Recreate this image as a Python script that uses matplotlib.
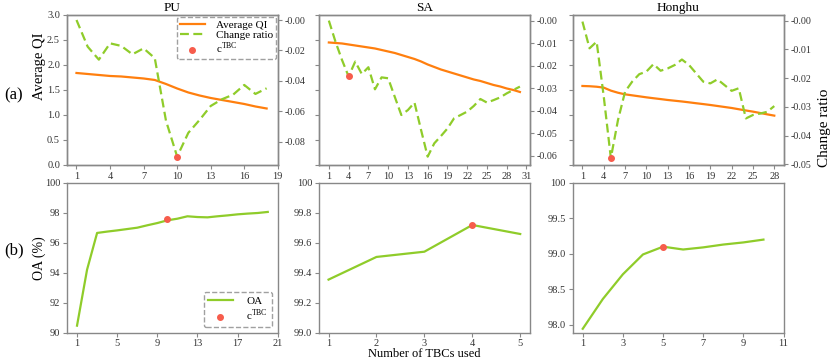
import numpy as np
import matplotlib.pyplot as plt

plt.rcParams['font.family'] = ['Liberation Serif', 'DejaVu Serif']
plt.rcParams['mathtext.fontset'] = 'custom'
plt.rcParams['mathtext.rm'] = 'Liberation Serif'

# ---- data: (a) average QI / change ratio ----
pu_n = np.arange(1, 19)
pu_qi = [1.84, 1.82, 1.80, 1.78, 1.77, 1.75, 1.73, 1.70, 1.62, 1.53,
         1.45, 1.39, 1.34, 1.30, 1.26, 1.22, 1.17, 1.13]
pu_ratio = [0.000, -0.0175, -0.026, -0.0153, -0.017, -0.0225, -0.0186, -0.025, -0.066, -0.0896,
            -0.074, -0.0656, -0.0564, -0.052, -0.049, -0.0426, -0.0485, -0.0448]

sa_n = np.arange(1, 31)
sa_qi = [2.45, 2.44, 2.43, 2.41, 2.39, 2.37, 2.35, 2.33, 2.30, 2.27,
         2.24, 2.20, 2.16, 2.12, 2.07, 2.01, 1.96, 1.91, 1.87, 1.83,
         1.79, 1.75, 1.71, 1.68, 1.64, 1.60, 1.57, 1.53, 1.50, 1.46]
sa_ratio = [0.000, -0.0093, -0.0175, -0.0248, -0.0182, -0.0237, -0.0207, -0.0305, -0.0252, -0.0256,
            -0.0338, -0.0419, -0.0397, -0.0364, -0.0486, -0.0604, -0.0545, -0.0513, -0.0479, -0.0434,
            -0.0419, -0.0404, -0.0379, -0.0348, -0.0364, -0.0353, -0.0341, -0.0323, -0.0308, -0.0293]

hh_n = np.arange(1, 29)
hh_qi = [1.58, 1.575, 1.565, 1.547, 1.487, 1.445, 1.413, 1.393, 1.373, 1.353,
         1.335, 1.318, 1.300, 1.285, 1.270, 1.253, 1.235, 1.218, 1.200, 1.180,
         1.160, 1.140, 1.115, 1.090, 1.067, 1.040, 1.013, 0.987]
hh_ratio = [-0.0003, -0.0096, -0.0073, -0.0264, -0.0478, -0.0346, -0.0247, -0.0212, -0.0186, -0.0177,
            -0.0151, -0.0174, -0.0166, -0.0154, -0.0135, -0.0154, -0.0183, -0.0212, -0.0218, -0.0204,
            -0.0224, -0.0244, -0.0235, -0.0340, -0.0328, -0.0323, -0.0317, -0.0297]

best_tbc = [10, 4, 5]

# ---- data: (b) OA ----
pu_oa_n = np.arange(1, 21)
pu_oa = [90.49, 94.22, 96.67, 96.76, 96.84, 96.93, 97.02, 97.18, 97.33, 97.51,
         97.62, 97.78, 97.73, 97.71, 97.78, 97.84, 97.91, 97.96, 98.00, 98.07]
sa_oa_n = np.arange(1, 6)
sa_oa = [99.356, 99.507, 99.542, 99.72, 99.66]
hh_oa_n = np.arange(1, 11)
hh_oa = [97.94, 98.36, 98.71, 98.99, 99.10, 99.06, 99.09, 99.13, 99.16, 99.20]
best_oa = [97.58, 99.72, 99.10]

titles = ['PU', 'SA', 'Honghu']

c_orange = '#ff7f0e'
c_green = '#8fcc2a'
c_red = '#f75c4c'
c_grey = '#888888'

fig = plt.figure(figsize=(8.3, 3.6), dpi=100)
lefts = [0.0807, 0.3843, 0.690]
width = 0.254


def style(ax):
    for s in ax.spines.values():
        s.set_color(c_grey)
        s.set_linewidth(1.0)
    ax.tick_params(colors='#333333', labelsize=7.5, length=3, width=0.8, pad=2)
    ax.tick_params(color=c_grey)


top_sets = [(pu_n, pu_qi, pu_ratio), (sa_n, sa_qi, sa_ratio), (hh_n, hh_qi, hh_ratio)]
xlims_top = [(0.15, 19.0), (-0.5, 31.5), (-0.37, 29.3)]
xticks_top = [range(1, 20, 3), range(1, 32, 3), range(1, 29, 3)]
rlims = [(-0.0951, 0.0033), (-0.0641, 0.0025), (-0.0502, 0.002)]
rticks = [np.arange(0, -0.081, -0.02), np.arange(0, -0.061, -0.01), np.arange(0, -0.051, -0.01)]

for i, (n, qi, ratio) in enumerate(top_sets):
    ax = fig.add_axes([lefts[i], 0.5417, width, 0.4167])
    ax2 = ax.twinx()
    l1, = ax.plot(n, qi, color=c_orange, lw=1.6, label='Average QI')
    l2, = ax2.plot(n, ratio, color=c_green, lw=1.6, ls='--', dashes=(4, 2), label='Change ratio')
    k = best_tbc[i] - 1
    p = ax2.scatter(n[k], ratio[k], s=16, color=c_red, zorder=5, label=r'c$^{\rm TBC}$')
    ax.set_ylim(0, 3)
    ax.set_yticks(np.arange(0, 3.01, 0.5))
    ax.set_xlim(*xlims_top[i])
    ax.set_xticks(list(xticks_top[i]))
    ax2.set_ylim(*rlims[i])
    ax2.set_yticks(rticks[i])
    ax2.set_yticklabels(['-%.2f' % abs(v) for v in rticks[i]])
    style(ax)
    style(ax2)
    ax2.tick_params(labelsize=7.2)
    if i == 0:
        ax.set_ylabel('Average QI', fontsize=10.5)
        ax.yaxis.set_label_coords(-0.1, 0.66)
        leg = ax.legend(handles=[l1, l2, p], loc='upper right', fontsize=8,
                        frameon=True, fancybox=True, borderpad=0.3, labelspacing=0.05,
                        handlelength=2.2, handletextpad=1.0, borderaxespad=0.15)
        leg.get_frame().set_linestyle('--')
        leg.get_frame().set_edgecolor(c_grey)
        leg.get_frame().set_linewidth(1.0)
    else:
        ax.set_yticklabels([])
    if i == 2:
        ax2.set_ylabel('Change ratio', fontsize=11)
        ax2.yaxis.set_label_coords(1.165, 0.25)
    ax.set_title(titles[i], fontsize=9.5, pad=3)

bot_sets = [(pu_oa_n, pu_oa), (sa_oa_n, sa_oa), (hh_oa_n, hh_oa)]
ylims_bot = [(90, 100), (99.0, 100), (97.88, 100)]
yticks_bot = [np.arange(90, 100.1, 2), np.arange(99.0, 100.01, 0.2), np.arange(98.0, 100.01, 0.5)]
ylabels_bot = [['90', '92', '94', '96', '98', '100'],
               ['99.0', '99.2', '99.4', '99.6', '99.8', '100'],
               ['98.0', '98.5', '99.0', '99.5', '100']]
xlims_bot = [(0, 21), (0.8, 5.2), (0.5, 11)]
xticks_bot = [range(1, 22, 4), range(1, 6), range(1, 12, 2)]
best_idx = [9, 3, 4]

for i, (n, oa) in enumerate(bot_sets):
    ax = fig.add_axes([lefts[i], 0.075, width, 0.4167])
    l1, = ax.plot(n, oa, color=c_green, lw=1.6, label='OA')
    p = ax.scatter(n[best_idx[i]], best_oa[i], s=16, color=c_red, zorder=5, label=r'c$^{\rm TBC}$')
    ax.set_ylim(*ylims_bot[i])
    ax.set_yticks(yticks_bot[i])
    ax.set_yticklabels(ylabels_bot[i])
    ax.set_xlim(*xlims_bot[i])
    ax.set_xticks(list(xticks_bot[i]))
    style(ax)
    ax.tick_params(axis='x', pad=1.5)
    if i == 0:
        ax.set_ylabel('OA (%)', fontsize=10)
        ax.yaxis.set_label_coords(-0.1, 0.5)
        leg = ax.legend(handles=[l1, p], loc='lower right', fontsize=8,
                        frameon=True, fancybox=True, borderpad=0.4, labelspacing=0.15,
                        handlelength=2.2, handletextpad=1.2, borderaxespad=0.5)
        leg.get_frame().set_linestyle('--')
        leg.get_frame().set_edgecolor(c_grey)
        leg.get_frame().set_linewidth(1.0)
    if i == 1:
        ax.set_xlabel('Number of TBCs used', fontsize=9, va='top')
        ax.xaxis.set_label_coords(0.5, -0.1)

fig.text(0.005, 0.735, '(a)', fontsize=12, va='center')
fig.text(0.005, 0.305, '(b)', fontsize=12, va='center')

fig.savefig('out.png', dpi=100)
